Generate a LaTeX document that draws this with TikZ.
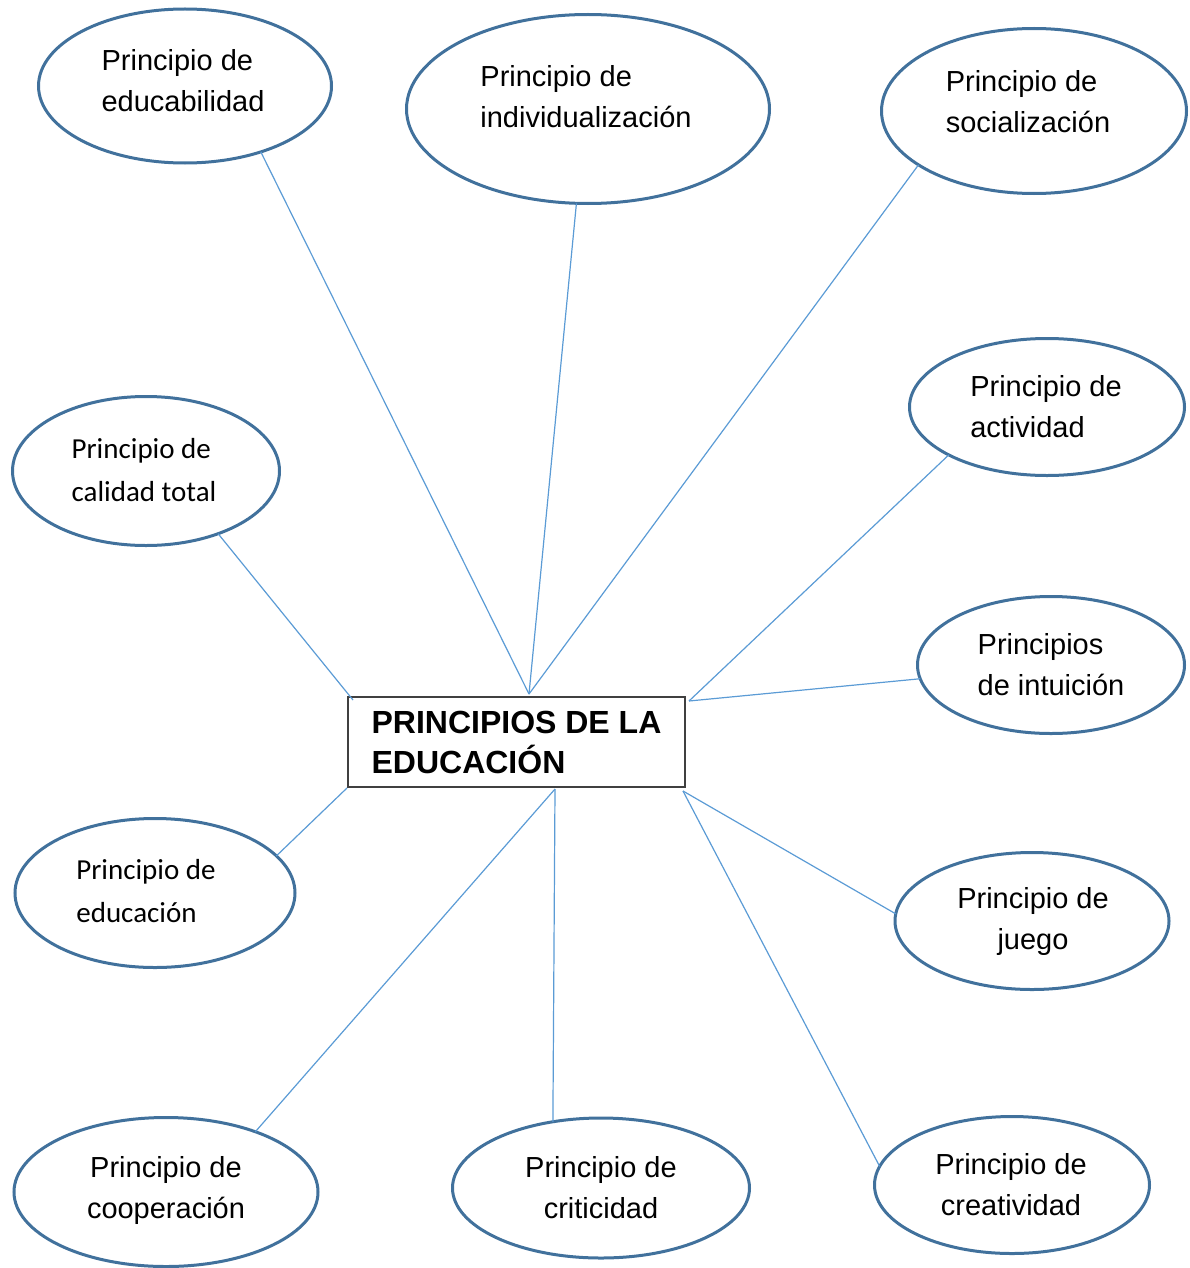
\documentclass[tikz,border=0pt]{standalone}
\usepackage{fontspec}
\setmainfont{Liberation Sans}
\newfontfamily\calibri{Carlito}
\usepackage{tikz}
\usetikzlibrary{positioning,shapes.geometric}
\definecolor{ovalblue}{HTML}{41719C}
\definecolor{linkblue}{HTML}{5B9BD5}
\definecolor{boxgray}{HTML}{404040}
\tikzset{
  oval/.style={draw=ovalblue, ellipse, line width=1.5pt, inner sep=0pt, outer sep=0pt},
  txt/.style={align=left, inner sep=0pt, font=\fontsize{14.5}{20.5}\selectfont},
  ctxt/.style={txt, align=center},
  caltxt/.style={txt, font=\calibri\fontsize{14.5}{21.5}\selectfont},
  hub/.style={draw=boxgray, line width=1pt, align=left, inner sep=0pt,
    minimum width=168.5pt, minimum height=45pt, font=\bfseries\fontsize{16}{20}\selectfont},
  link/.style={draw=linkblue, line width=0.6pt}
}
\begin{document}
\begin{tikzpicture}[x=0.5pt, y=-0.5pt]
  \useasboundingbox (0,0) rectangle (1189,1268);
  % central box
  \node[hub] (main) at (516.5,742) {PRINCIPIOS DE LA\\EDUCACI\'ON};
  % ovals
  \node[oval, minimum width=146.5pt, minimum height=77pt] (educab) at (185,86) {};
  \node[oval, minimum width=181.5pt, minimum height=94.5pt] (indiv) at (588,109) {};
  \node[oval, minimum width=152.5pt, minimum height=82.5pt] (social) at (1034,111) {};
  \node[oval, minimum width=137.5pt, minimum height=68.5pt] (activ) at (1047,407) {};
  \node[oval, minimum width=133.5pt, minimum height=74.5pt] (calidad) at (146,471) {};
  \node[oval, minimum width=133.5pt, minimum height=68.5pt] (intuic) at (1051,665) {};
  \node[oval, minimum width=140pt, minimum height=74.5pt] (educac) at (155,893) {};
  \node[oval, minimum width=137pt, minimum height=68.5pt] (juego) at (1032,921) {};
  \node[oval, minimum width=152pt, minimum height=74.5pt] (coop) at (166,1192) {};
  \node[oval, minimum width=148.5pt, minimum height=70pt] (critic) at (601,1188) {};
  \node[oval, minimum width=137.5pt, minimum height=68.5pt] (creat) at (1012,1185) {};
  % texts
  \node[txt] (educabT) at (183,81) {Principio de\\educabilidad};
  \node[txt] (indivT) at (586,97) {Principio de\\individualizaci\'on};
  \node[txt] (socialT) at (1028,102) {Principio de\\socializaci\'on};
  \node[txt] (activT) at (1046,407) {Principio de\\actividad};
  \node[caltxt] (calidadT) at (144,470) {Principio de\\calidad total};
  \node[txt] (intuicT) at (1051,665) {Principios\\de intuici\'on};
  \node[caltxt] (educacT) at (146,891) {Principio de\\educaci\'on};
  \node[ctxt] (juegoT) at (1033,921) {Principio de\\juego};
  \node[ctxt] (coopT) at (166,1190) {Principio de\\cooperaci\'on};
  \node[ctxt] (criticT) at (601,1188) {Principio de\\criticidad};
  \node[ctxt] (creatT) at (1011,1185) {Principio de\\creatividad};
  % ends on the box
  \coordinate (pN) at ([shift={(12.5,-2)}]main.north);
  \coordinate (pNW) at ([shift={(6,4)}]main.north west);
  \coordinate (pNE) at ([shift={(3,5)}]main.north east);
  \coordinate (pSW) at (main.south west);
  \coordinate (pS) at ([shift={(38.5,1)}]main.south);
  \coordinate (pSE) at ([shift={(-3,3)}]main.south east);
  % connectors
  \draw[link] (educab.-41.8) -- (pN);
  \draw[link] (indiv.-97.7) -- (pN);
  \draw[link] (social.-155) -- (pN);
  \draw[link] (activ.-154.6) -- (pNE);
  \draw[link] (intuic.-174.4) -- (pNE);
  \draw[link] (calidad.-41.3) -- (pNW);
  \draw[link] (pSW) -- (educac.17.1);
  \draw[link] (pS) -- (coop.34.1);
  \draw[link] (pS) -- (critic.126.6);
  \draw[link] (pSE) -- (juego.177);
  \draw[link] (pSE) -- (creat.172.9);
\end{tikzpicture}
\end{document}
